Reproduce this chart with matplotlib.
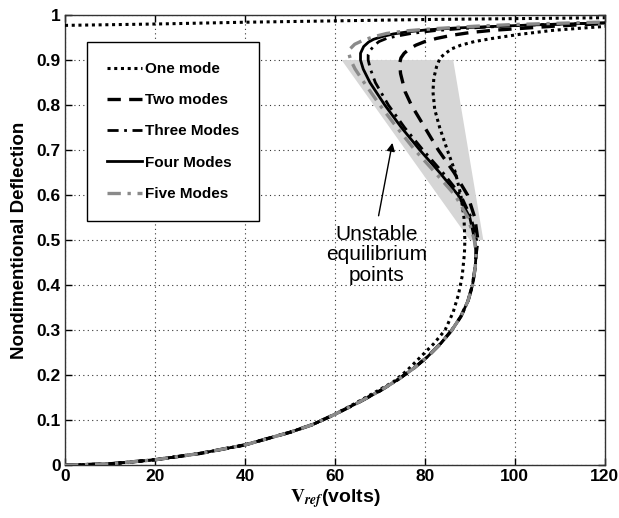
import numpy as np
import matplotlib
matplotlib.use("Agg")
import matplotlib.pyplot as plt

plt.rcParams['font.family'] = ['Liberation Sans', 'DejaVu Sans']
plt.rcParams['mathtext.fontset'] = 'stix'

# ---- data (voltage V, nondimensional deflection y) ----
# common lower (stable) branch shared by the multi-mode models
low_V = [0.0, 10.0, 20.0, 30.0, 40.0, 50.0, 55.0, 60.0, 65.0, 70.0, 74.0, 77.5, 80.5, 83.5, 86.0, 88.0, 89.6, 90.6, 91.2, 91.4]
low_y = [0.0, 0.003, 0.012, 0.026, 0.045, 0.073, 0.09, 0.113, 0.138, 0.165, 0.19, 0.215, 0.24, 0.27, 0.30, 0.33, 0.365, 0.40, 0.44, 0.47]

one_V = [0.0, 10.0, 20.0, 30.0, 40.0, 50.0, 55.0, 60.0, 65.0, 70.0, 73.0, 76.0, 79.0, 82.0, 84.5, 86.3, 87.5, 88.3, 88.8,
         88.9, 88.7, 88.0, 86.8, 85.0, 83.3, 82.2, 81.8, 82.0, 82.6, 83.4, 84.6, 86.0, 88.0, 91.0, 95.0, 101.0,
         108.5, 115.0, 122.0]
one_y = [0.0, 0.003, 0.012, 0.026, 0.045, 0.073, 0.09, 0.113, 0.14, 0.168, 0.185, 0.21, 0.24, 0.27, 0.30, 0.34, 0.38, 0.42, 0.47,
         0.50, 0.55, 0.60, 0.65, 0.70, 0.75, 0.79, 0.83, 0.86, 0.885, 0.905, 0.915, 0.925, 0.933, 0.941, 0.948, 0.957,
         0.966, 0.971, 0.976]
one_top_V = [0.0, 20.0, 40.0, 60.0, 80.0, 100.0, 120.0]
one_top_y = [0.977, 0.980, 0.984, 0.987, 0.990, 0.992, 0.994]

two_V = [91.8, 91.1, 89.5, 86.5, 83.0, 80.0, 77.0, 75.6, 74.6, 74.4, 74.7, 75.4, 76.6, 78.0, 80.0, 82.6, 86.0, 90.0,
         95.0, 101.0, 110.0, 122.0]
two_y = [0.50, 0.55, 0.60, 0.65, 0.70, 0.75, 0.80, 0.83, 0.87, 0.893, 0.905, 0.915, 0.925, 0.933, 0.941, 0.948, 0.955, 0.961,
         0.966, 0.970, 0.976, 0.982]

three_V = [91.5, 90.3, 88.0, 84.0, 79.6, 75.5, 71.9, 69.0, 67.9, 67.4, 67.4, 67.9, 68.8, 69.8, 71.5, 73.7, 77.0, 82.0,
           88.5, 97.0, 107.0, 122.0]
three_y = [0.50, 0.55, 0.60, 0.65, 0.70, 0.75, 0.80, 0.85, 0.88, 0.90, 0.912, 0.922, 0.933, 0.941, 0.948, 0.953, 0.959, 0.965,
           0.970, 0.975, 0.979, 0.983]

four_V = [91.1, 90.0, 87.4, 83.3, 78.9, 74.8, 71.1, 67.8, 66.3, 65.7, 65.7, 66.4, 67.5, 68.6, 70.5, 73.0, 76.5, 80.4,
          86.5, 93.7, 104.0, 122.0]
four_y = [0.50, 0.55, 0.60, 0.65, 0.70, 0.75, 0.80, 0.85, 0.88, 0.90, 0.915, 0.93, 0.94, 0.946, 0.952, 0.958, 0.963, 0.967,
          0.971, 0.974, 0.978, 0.983]

five_V = [91.0, 89.6, 86.7, 82.3, 77.8, 73.8, 70.0, 66.5, 64.5, 63.5, 63.1, 63.4, 64.4, 66.3, 68.7, 71.5, 76.0, 82.6,
          91.0, 100.0, 122.0]
five_y = [0.50, 0.55, 0.60, 0.65, 0.70, 0.75, 0.80, 0.85, 0.88, 0.90, 0.915, 0.925, 0.935, 0.944, 0.952, 0.959, 0.965, 0.970,
          0.975, 0.979, 0.985]

region_V = [61.5, 86.3, 93.0, 90.0]
region_y = [0.9, 0.9, 0.5, 0.5]

labels = ['One mode', 'Two modes', 'Three Modes', 'Four Modes', 'Five Modes']
xticks = [0, 20, 40, 60, 80, 100, 120]
yticks = [0, 0.1, 0.2, 0.3, 0.4, 0.5, 0.6, 0.7, 0.8, 0.9, 1]
ytick_labels = ['0', '0.1', '0.2', '0.3', '0.4', '0.5', '0.6', '0.7', '0.8', '0.9', '1']

fig = plt.figure(figsize=(6.19, 5.18), dpi=100)
ax = fig.add_axes([0.105, 0.102, 0.872, 0.869])

ax.fill(region_V, region_y, color='#d6d6d6', zorder=1, lw=0)

def full(Vv, yv):
    return low_V + Vv, low_y + yv

gray = '#8a8a8a'
ax.plot(one_V, one_y, color='black', ls=(0, (1, 1.2)), lw=2.2, label=labels[0], zorder=3)
ax.plot(one_top_V, one_top_y, color='black', ls=(0, (1, 1.2)), lw=2.2, zorder=3)
V, y = full(two_V, two_y)
ax.plot(V, y, color='black', ls=(0, (4, 2.5)), lw=2.4, label=labels[1], zorder=3)
V, y = full(three_V, three_y)
ax.plot(V, y, color='black', ls=(0, (4, 2, 1, 2)), lw=2.0, label=labels[2], zorder=3)
V, y = full(four_V, four_y)
ax.plot(V, y, color='black', ls='-', lw=2.0, label=labels[3], zorder=3)
V, y = full(five_V, five_y)
ax.plot(V, y, color=gray, ls=(0, (4, 2, 1, 2)), lw=2.4, label=labels[4], zorder=3)

ax.set_xlim(0, 120)
ax.set_ylim(0, 1)
ax.set_xticks(xticks)
ax.set_yticks(yticks)
ax.set_yticklabels(ytick_labels)
ax.grid(True, color='black', ls=(0, (1, 3)), lw=0.8, alpha=0.8)
ax.set_axisbelow(True)
ax.tick_params(direction='in', top=True, right=True, length=5, width=1,
               labelsize=12.5, pad=3)
for lab in ax.get_xticklabels() + ax.get_yticklabels():
    lab.set_fontweight('bold')
for s in ax.spines.values():
    s.set_linewidth(1.0)
    s.set_color('#333333')

ax.set_ylabel('Nondimentional Deflection', fontsize=13.5, fontweight='bold', labelpad=6)
ax.set_xlabel(r'$\mathbf{V}_{\boldsymbol{ref}}$' + '(volts)', fontsize=14, fontweight='bold', labelpad=2)

leg = ax.legend(loc='upper left', bbox_to_anchor=(0.041, 0.94), frameon=True, fancybox=False,
                edgecolor='black', framealpha=1, prop={'weight': 'bold', 'size': 11},
                handlelength=2.3, handletextpad=0.2, labelspacing=1.13, borderpad=1.3,
                borderaxespad=0)
leg.get_frame().set_linewidth(1.0)

ax.annotate('', xy=(72.9, 0.722), xytext=(69.6, 0.548),
            arrowprops=dict(arrowstyle='-|>', color='black', lw=1, mutation_scale=12), zorder=5)
ax.text(69.3, 0.467, 'Unstable\nequilibrium\npoints', fontsize=15, ha='center', va='center',
        linespacing=1.1, zorder=5)

fig.savefig('out.png', dpi=100)
